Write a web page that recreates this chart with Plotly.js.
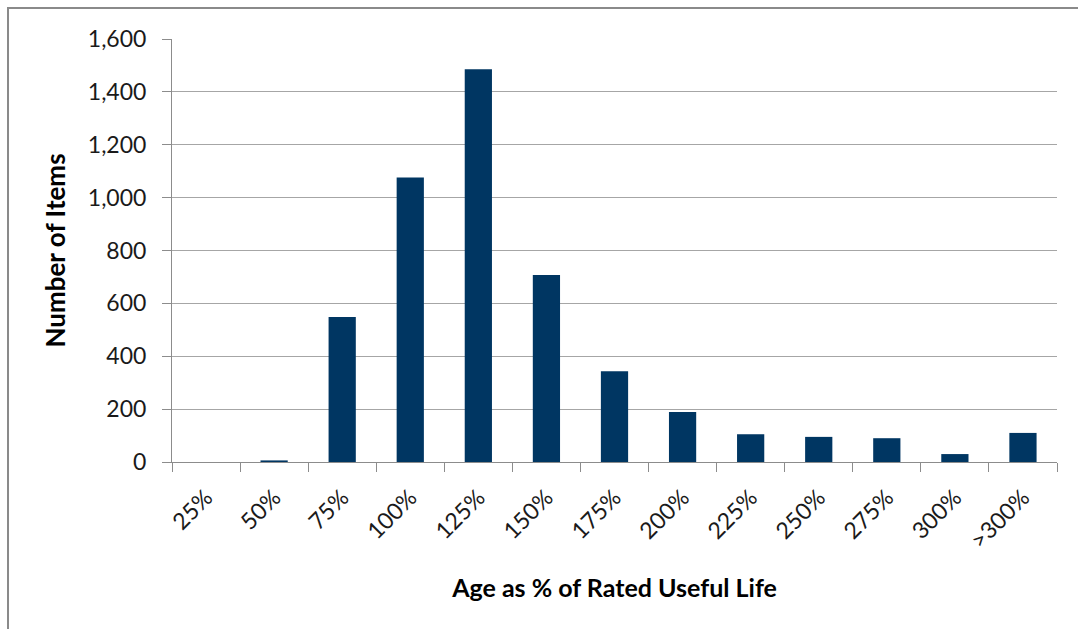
<!DOCTYPE html>
<html>
<head>
<meta charset="utf-8">
<script src="https://cdn.plot.ly/plotly-3.0.1.min.js"></script>
<style>
  html, body { margin: 0; padding: 0; background: #ffffff; }
  #chart { width: 1078px; height: 629px; }
</style>
</head>
<body>
<div id="chart"></div>
<script>
// Age buckets as a share of rated useful life
const categories = ['25%', '50%', '75%', '100%', '125%', '150%', '175%',
                    '200%', '225%', '250%', '275%', '300%', '>300%'];
// Number of items in each bucket
const itemCounts = [0, 6, 548, 1076, 1486, 707, 343, 189, 105, 95, 90, 30, 110];
// Value axis ticks
const yTicks = [0, 200, 400, 600, 800, 1000, 1200, 1400, 1600];

const FONT = 'Lato, "Open Sans", "DejaVu Sans", sans-serif';
const GRID = '#a6a6a6';
const AXIS = '#8c8c8c';

const trace = {
  type: 'bar',
  x: categories,
  y: itemCounts,
  marker: { color: '#003662', line: { width: 0 } },
  hoverinfo: 'x+y'
};

const layout = {
  width: 1078,
  height: 629,
  margin: { l: 172, r: 21, t: 39, b: 167 },
  paper_bgcolor: '#ffffff',
  plot_bgcolor: '#ffffff',
  bargap: 0.6,
  showlegend: false,
  font: { family: FONT, color: '#000000' },
  xaxis: {
    type: 'category',
    tickson: 'boundaries',
    ticks: 'outside',
    ticklen: 9,
    tickcolor: AXIS,
    tickwidth: 1,
    tickangle: -45,
    ticklabelstandoff: 12,
    tickfont: { family: FONT, size: 23, color: '#1a1a1a' },
    showline: true,
    linecolor: AXIS,
    linewidth: 1,
    showgrid: false,
    zeroline: false,
    fixedrange: true,
    title: {
      text: 'Age as % of Rated Useful Life',
      font: { family: FONT, size: 25, color: '#000000', weight: 'bold' },
      standoff: 26
    }
  },
  yaxis: {
    range: [0, 1600],
    tickvals: yTicks,
    tickformat: ',d',
    ticks: 'outside',
    ticklen: 9,
    tickcolor: AXIS,
    tickwidth: 1,
    ticklabelstandoff: 11,
    tickfont: { family: FONT, size: 23, color: '#1a1a1a' },
    showline: true,
    linecolor: AXIS,
    linewidth: 1,
    showgrid: true,
    gridcolor: GRID,
    gridwidth: 1,
    zeroline: false,
    fixedrange: true,
    title: {
      text: 'Number of Items',
      font: { family: FONT, size: 26, color: '#000000', weight: 'bold' },
      standoff: 14
    }
  },
  shapes: [
    // outer chart frame (top and left edges visible)
    {
      type: 'rect', xref: 'paper', yref: 'paper',
      x0: -0.1853, x1: 1.05, y0: -0.45, y1: 1.0733,
      line: { color: '#8a8a8a', width: 2 },
      fillcolor: 'rgba(0,0,0,0)',
      layer: 'below'
    }
  ]
};

Plotly.newPlot('chart', [trace], layout, { displayModeBar: false, staticPlot: true });
</script>
</body>
</html>
